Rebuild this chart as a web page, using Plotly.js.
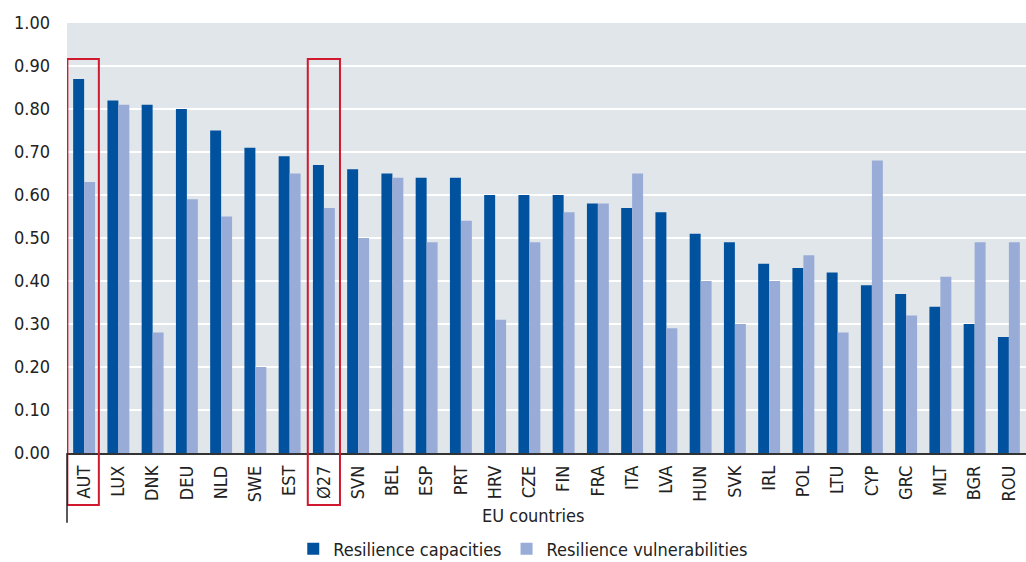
<!DOCTYPE html>
<html>
<head>
<meta charset="utf-8">
<script src="https://cdn.plot.ly/plotly-3.0.1.min.js"></script>
<style>html,body{margin:0;padding:0;background:#fff;}#chart{width:1026px;height:562px;}</style>
</head>
<body>
<div id="chart"></div>
<script>
var countries = ["AUT","LUX","DNK","DEU","NLD","SWE","EST","Ø27","SVN","BEL","ESP","PRT","HRV","CZE","FIN","FRA","ITA","LVA","HUN","SVK","IRL","POL","LTU","CYP","GRC","MLT","BGR","ROU"];
var capacities = [0.87,0.82,0.81,0.80,0.75,0.71,0.69,0.67,0.66,0.65,0.64,0.64,0.60,0.60,0.60,0.58,0.57,0.56,0.51,0.49,0.44,0.43,0.42,0.39,0.37,0.34,0.30,0.27];
var vulnerabilities = [0.63,0.81,0.28,0.59,0.55,0.20,0.65,0.57,0.50,0.64,0.49,0.54,0.31,0.49,0.56,0.58,0.65,0.29,0.40,0.30,0.40,0.46,0.28,0.68,0.32,0.41,0.49,0.49];
var yTicks = [0,0.1,0.2,0.3,0.4,0.5,0.6,0.7,0.8,0.9,1.0];
var yTickText = ["0.00","0.10","0.20","0.30","0.40","0.50","0.60","0.70","0.80","0.90","1.00"];
var highlighted = ["AUT","Ø27"];
var seriesNames = ["Resilience capacities","Resilience vulnerabilities"];
var xTitle = "EU countries";

var FONT = '"Liberation Sans Narrow", "DejaVu Sans Condensed", "Roboto Condensed", sans-serif';

var traces = [
  {type:'bar', name:seriesNames[0], x:countries, y:capacities,
   marker:{color:'#00529f', line:{width:0}}},
  {type:'bar', name:seriesNames[1], x:countries, y:vulnerabilities,
   marker:{color:'#98acd7', line:{width:0}}}
];

var shapes = [];
highlighted.forEach(function(c){
  var i = countries.indexOf(c);
  var left = (i === 0) ? -0.49 : i - 0.47;
  var right = (i === 0) ? i + 0.43 : i + 0.47;
  shapes.push({type:'rect', xref:'x', yref:'paper', x0:left, x1:right,
    y0:-0.121, y1:0.916, line:{color:'#d0182e', width:2}, fillcolor:'rgba(0,0,0,0)', layer:'above'});
});
shapes.push({type:'line', xref:'paper', yref:'paper', x0:0, x1:0, y0:0, y1:-0.162,
  line:{color:'#222', width:1.5}});

var layout = {
  width:1026, height:562,
  margin:{l:67, r:0, t:23, b:109},
  paper_bgcolor:'#ffffff',
  plot_bgcolor:'#e1e6eb',
  font:{family:FONT, size:18, color:'#222'},
  barmode:'group',
  bargap:0.36,
  bargroupgap:0,
  showlegend:true,
  legend:{orientation:'h', xref:'container', yref:'container', x:0.51, xanchor:'center', y:0.023, yanchor:'middle',
    font:{family:FONT, size:18, color:'#222'}, traceorder:'normal', itemwidth:30},
  annotations:[{xref:'paper', yref:'paper', x:0.486, y:-0.1465, xanchor:'center', yanchor:'middle',
    text:xTitle, showarrow:false, font:{family:FONT, size:18, color:'#222'}}],
  xaxis:{
    type:'category', tickangle:-90, showgrid:false, automargin:false,
    showline:true, linecolor:'#333', linewidth:1.5,
    ticks:'', ticklabelstandoff:4,
    tickfont:{family:FONT, size:18, color:'#222'},
    range:[-0.5, countries.length-0.5],
    fixedrange:true
  },
  yaxis:{
    range:[0,1.0], tickvals:yTicks, ticktext:yTickText, automargin:false,
    showgrid:true, gridcolor:'#ffffff', gridwidth:2,
    zeroline:false, showline:false, ticks:'',
    ticklabelstandoff:16,
    tickfont:{family:FONT, size:18, color:'#222'},
    fixedrange:true
  },
  shapes:shapes
};

Plotly.newPlot('chart', traces, layout, {displayModeBar:false, staticPlot:true});
</script>
</body>
</html>
